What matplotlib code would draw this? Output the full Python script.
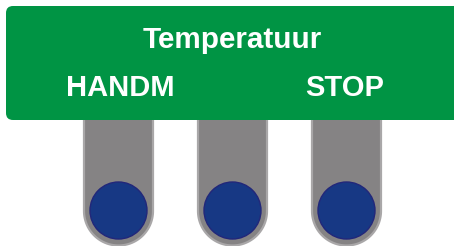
import numpy as np
import matplotlib
matplotlib.use("Agg")
import matplotlib.pyplot as plt
from matplotlib.patches import FancyBboxPatch, Circle, PathPatch
from matplotlib.path import Path

# ---- content ----
title = "Temperatuur"
button_labels = ["HANDM", "", "STOP"]

# ---- layout / style ----
W, H = 454, 246
panel_color = "#009444"
slot_color = "#858384"
slot_edge = "#a9a7a8"
knob_color = "#173884"
knob_edge = "#22277a"
font = ["Liberation Sans", "DejaVu Sans"]

fig = plt.figure(figsize=(W / 100, H / 100), dpi=100)
ax = fig.add_axes([0, 0, 1, 1])
ax.set_xlim(0, W)
ax.set_ylim(H, 0)
ax.axis("off")

first_x, step = 118.5, 114.0
label_shift = [1.5, 0, -1.5]
slot_r = 34.5
slot_top, arc_cy = 100.0, 211.0
knob_r = 28.5
knob_cy = 210.5

for i, lab in enumerate(button_labels):
    cx = first_x + i * step
    theta = np.linspace(np.pi, 0, 60)
    arc_x = cx - slot_r * np.cos(np.pi - theta)
    arc_y = arc_cy + slot_r * np.sin(theta)
    verts = [(cx - slot_r, slot_top)]
    verts += list(zip(arc_x, arc_y))
    verts += [(cx + slot_r, slot_top)]
    path = Path(verts)
    ax.add_patch(PathPatch(path, facecolor=slot_color, edgecolor=slot_edge,
                           lw=1.6, zorder=1))
    ax.add_patch(Circle((cx, knob_cy), knob_r, facecolor=knob_color,
                        edgecolor=knob_edge, lw=1.0, zorder=2))
    if lab:
        ax.text(cx + label_shift[i], 88.5, lab, color="white", fontsize=21,
                fontweight="bold", family=font, ha="center", va="center",
                zorder=5)

panel = FancyBboxPatch((6, 6), 480, 114,
                       boxstyle="round,pad=0,rounding_size=7",
                       facecolor=panel_color, edgecolor="none", zorder=3)
ax.add_patch(panel)
ax.text(232.5, 40.5, title, color="white", fontsize=21.3, fontweight="bold",
        family=font, ha="center", va="center", zorder=5)

fig.savefig("out.png", dpi=100)
